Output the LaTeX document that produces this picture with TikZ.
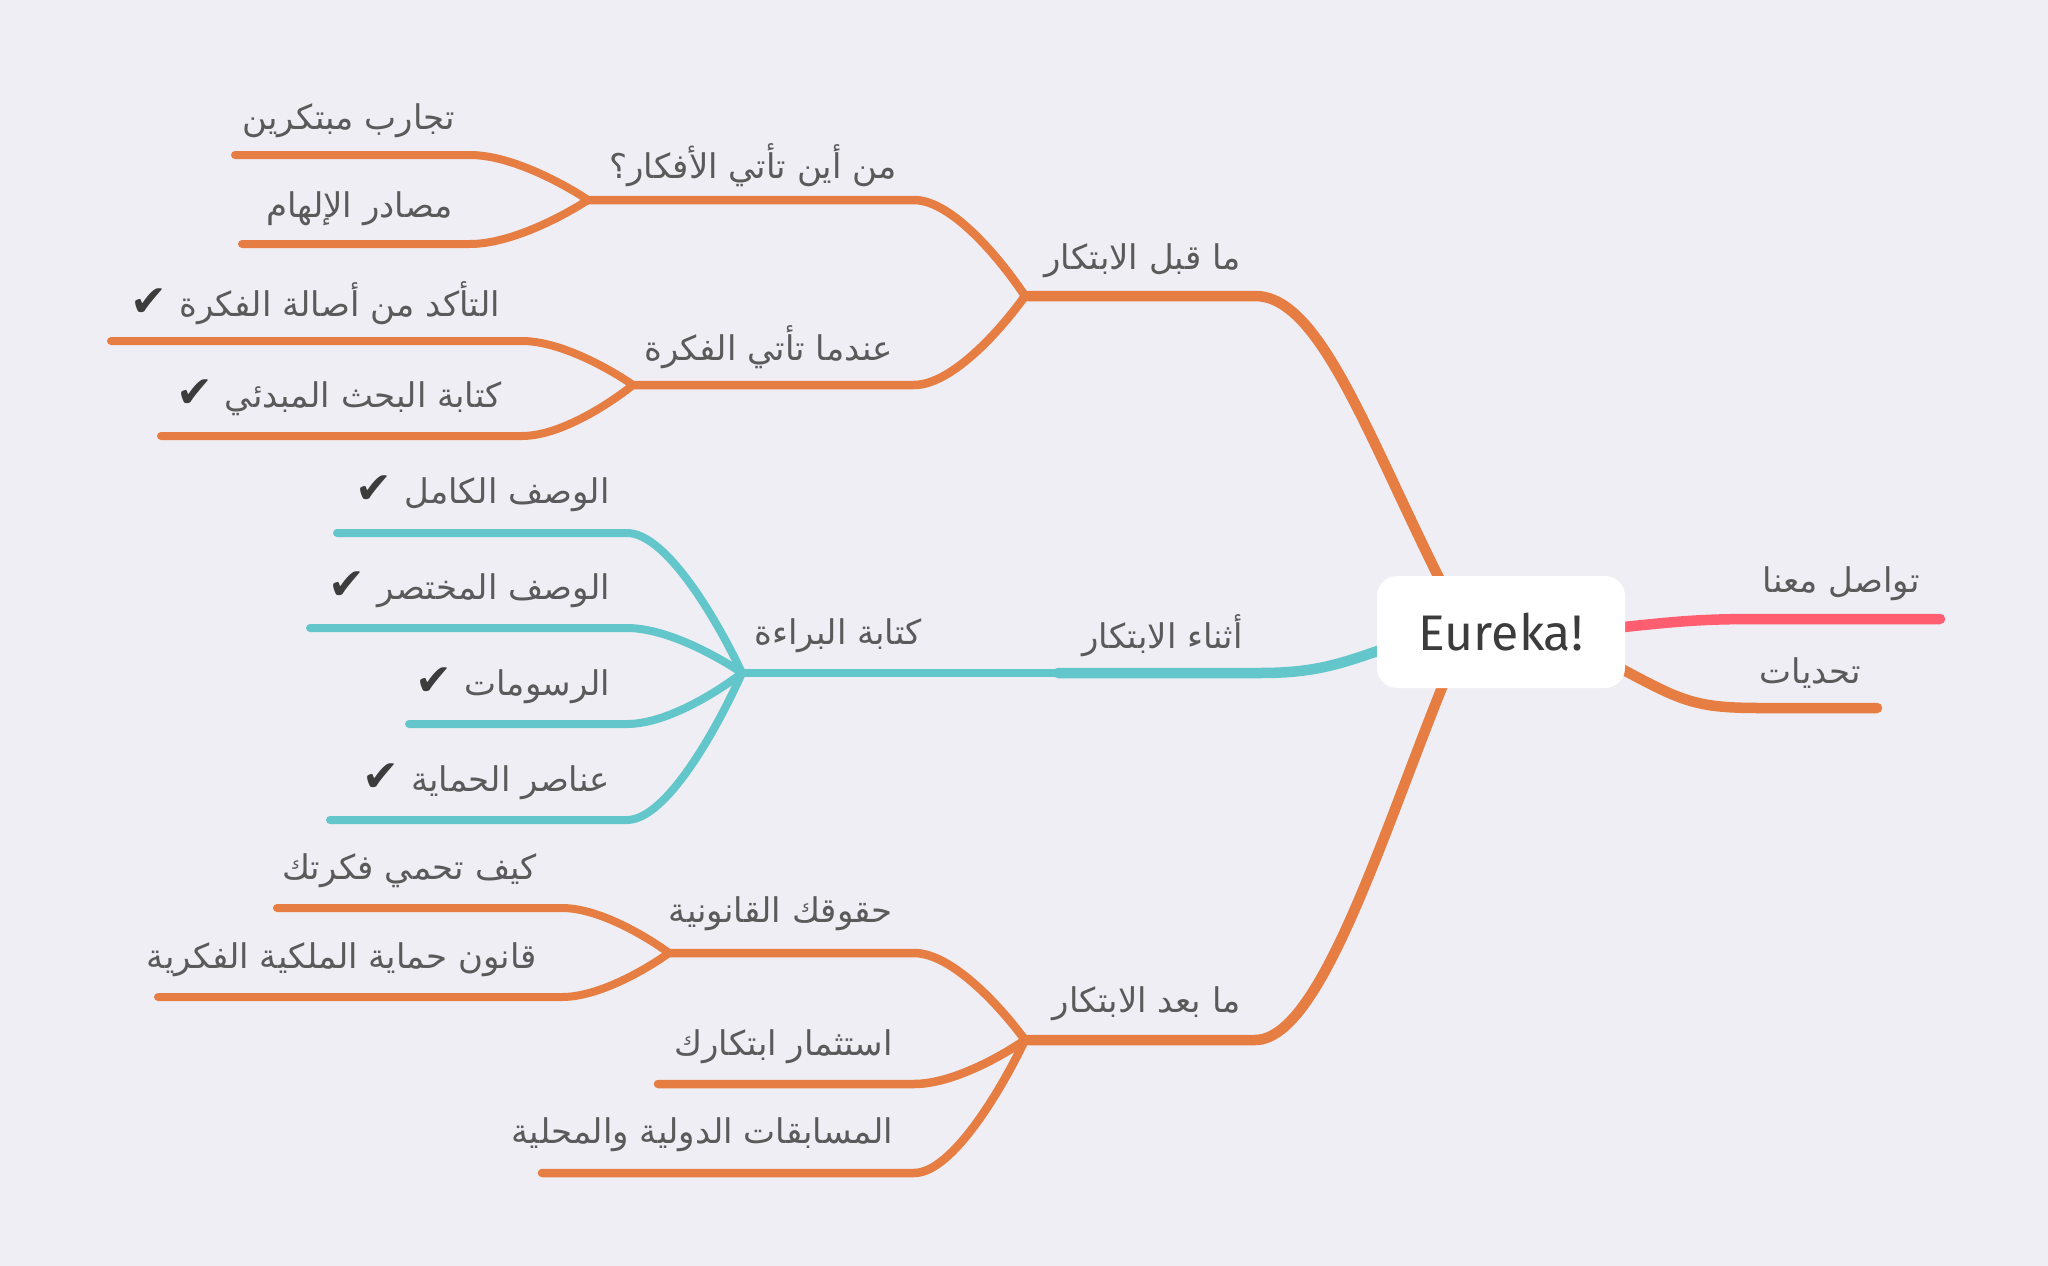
\documentclass[tikz,border=0pt]{standalone}
\usepackage{fontspec}
\usetikzlibrary{calc}
\TeXXeTstate=1
\newfontfamily\arabicfont[Script=Arabic]{DejaVu Sans}
\newfontfamily\symfont{DejaVu Sans}
\newfontfamily\latfont{Fira Sans}
\definecolor{bgc}{HTML}{EFEEF4}
\definecolor{org}{HTML}{E67E43}
\definecolor{tea}{HTML}{63C6CA}
\definecolor{rdc}{HTML}{FF5E70}
\definecolor{txt}{HTML}{5A5A5A}
\definecolor{chk}{HTML}{3C3C3C}
\pgfdeclarelayer{back}\pgfdeclarelayer{lines}
\pgfsetlayers{back,lines,main}
\newcommand\ck{{\symfont\color{chk}\fontsize{44}{46}\selectfont ✔}\hspace{12pt}}
\tikzset{
  br/.style={line width=10.5pt, line cap=round, line join=round},
  sb/.style={line width=8.5pt, line cap=round, line join=round},
  lf/.style={line width=8pt, line cap=round, line join=round},
  lab/.style={anchor=east, inner sep=0pt, text=txt, font=\arabicfont\fontsize{34}{40}\selectfont},
  fork/.style={to path={let \p1=(\tikztostart), \p2=(\tikztotarget) in
     .. controls ({\x1-0.2*(\x1-\x2)},{\y1+0.35*(\y2-\y1)}) and ({\x2+0.35*(\x1-\x2)},\y2) .. (\tikztotarget)}}
}
\begin{document}
\begin{tikzpicture}[x=1pt,y=-1pt]
\begin{pgfonlayer}{back}
\fill[bgc] (0,0) rectangle (2048,1266);
\end{pgfonlayer}
\useasboundingbox (0,0) rectangle (2048,1266);

% central node
\node[fill=white, rounded corners=20pt, minimum width=248pt, minimum height=112pt, inner sep=0pt,
      text=chk, font=\latfont\fontsize{50}{56}\selectfont] (c) at (1501,632) {Eureka!};

% coordinates
\coordinate (c1) at (1445,590);
\coordinate (c2) at (1395,645);
\coordinate (c3) at (1445,680);
\coordinate (c4) at (1605,629);
\coordinate (c5) at (1605,660);
\coordinate (J1) at (1025,296); \coordinate (K1) at (1255,296);
\coordinate (J2) at (1058,673); \coordinate (K2) at (1260,673);
\coordinate (J4) at (1025,1040); \coordinate (K4) at (1255,1040);
\coordinate (R1) at (1760,619); \coordinate (R1e) at (1940,619);
\coordinate (R2) at (1760,708); \coordinate (R2e) at (1877,708);
\coordinate (A1c) at (914,200); \coordinate (A1) at (588,200);
\coordinate (A2c) at (914,385); \coordinate (A2) at (633,385);
\coordinate (L1c) at (470,155); \coordinate (L1e) at (235,155);
\coordinate (L2c) at (470,244); \coordinate (L2e) at (242,244);
\coordinate (L3c) at (522,341); \coordinate (L3e) at (111,341);
\coordinate (L4c) at (522,436); \coordinate (L4e) at (161,436);
\coordinate (J3) at (742,673);
\coordinate (T1c) at (627,533); \coordinate (T1e) at (337,533);
\coordinate (T2c) at (627,628); \coordinate (T2e) at (310,628);
\coordinate (T3c) at (627,724); \coordinate (T3e) at (409,724);
\coordinate (T4c) at (627,820); \coordinate (T4e) at (330,820);
\coordinate (B1c) at (914,953); \coordinate (B1) at (669,953);
\coordinate (B2c) at (914,1084); \coordinate (B2e) at (658,1084);
\coordinate (B3c) at (914,1173); \coordinate (B3e) at (542,1173);
\coordinate (L5c) at (562,908); \coordinate (L5e) at (277,908);
\coordinate (L6c) at (562,997); \coordinate (L6e) at (158,997);

\begin{pgfonlayer}{lines}
% main branches
\draw[br,org] (J1) -- (K1) .. controls (1320,296) and (1367,435) .. (c1);
\draw[br,tea] (J2) -- (K2) .. controls (1320,673) and (1345,662) .. (c2);
\draw[br,org] (J4) -- (K4) .. controls (1320,1040) and (1381,838) .. (c3);
\draw[br,rdc] (c4) .. controls (1680,621) and (1700,619) .. (R1) -- (R1e);
\draw[br,org] (c5) .. controls (1680,700) and (1690,708) .. (R2) -- (R2e);
% before
\draw[sb,org] (J1) to[fork] (A1c) -- (A1);
\draw[sb,org] (J1) to[fork] (A2c) -- (A2);
\draw[lf,org] (A1) to[fork] (L1c) -- (L1e);
\draw[lf,org] (A1) to[fork] (L2c) -- (L2e);
\draw[lf,org] (A2) to[fork] (L3c) -- (L3e);
\draw[lf,org] (A2) to[fork] (L4c) -- (L4e);
% during
\draw[sb,tea] (J2) -- (J3);
\draw[lf,tea] (J3) to[fork] (T1c) -- (T1e);
\draw[lf,tea] (J3) to[fork] (T2c) -- (T2e);
\draw[lf,tea] (J3) to[fork] (T3c) -- (T3e);
\draw[lf,tea] (J3) to[fork] (T4c) -- (T4e);
% after
\draw[sb,org] (J4) to[fork] (B1c) -- (B1);
\draw[sb,org] (J4) to[fork] (B2c) -- (B2e);
\draw[sb,org] (J4) to[fork] (B3c) -- (B3e);
\draw[lf,org] (B1) to[fork] (L5c) -- (L5e);
\draw[lf,org] (B1) to[fork] (L6c) -- (L6e);
\end{pgfonlayer}

% labels
\node[lab] (m1) at (1241,261) {\beginR ما قبل الابتكار\endR};
\node[lab] (m2) at (1243,636) {\beginR أثناء الابتكار\endR};
\node[lab] (m3) at (1241,1004) {\beginR ما بعد الابتكار\endR};
\node[lab] (r1) at (1920,584) {\beginR تواصل معنا\endR};
\node[lab] (r2) at (1861,673) {\beginR تحديات\endR};
\node[lab] (a1) at (897,165) {\beginR من أين تأتي الأفكار؟\endR};
\node[lab] (a2) at (893,347) {\beginR عندما تأتي الفكرة\endR};
\node[lab] (l1) at (455,121) {\beginR تجارب مبتكرين\endR};
\node[lab] (l2) at (453,209) {\beginR مصادر الإلهام\endR};
\node[lab] (l3) at (500,303) {\ck\beginR التأكد من أصالة الفكرة\endR};
\node[lab] (l4) at (502,398) {\ck\beginR كتابة البحث المبدئي\endR};
\node[lab] (t0) at (922,636) {\beginR كتابة البراءة\endR};
\node[lab] (t1) at (610,494) {\ck\beginR الوصف الكامل\endR};
\node[lab] (t2) at (610,590) {\ck\beginR الوصف المختصر\endR};
\node[lab] (t3) at (610,686) {\ck\beginR الرسومات\endR};
\node[lab] (t4) at (610,782) {\ck\beginR عناصر الحماية\endR};
\node[lab] (b1) at (893,914) {\beginR حقوقك القانونية\endR};
\node[lab] (l5) at (537,871) {\beginR كيف تحمي فكرتك\endR};
\node[lab] (l6) at (537,960) {\beginR قانون حماية الملكية الفكرية\endR};
\node[lab] (b2) at (893,1047) {\beginR استثمار ابتكارك\endR};
\node[lab] (b3) at (893,1135) {\beginR المسابقات الدولية والمحلية\endR};
\end{tikzpicture}
\end{document}
